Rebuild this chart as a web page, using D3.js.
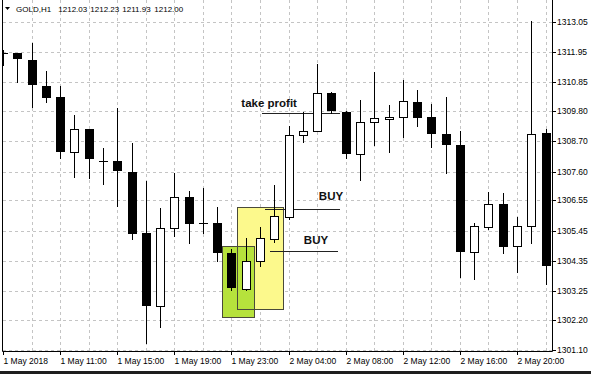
<!DOCTYPE html>
<html lang="en">
<head>
    <meta charset="UTF-8">
    <title>GOLD,H1</title>
    <script src="https://d3js.org/d3.v7.min.js"></script>
    <style>
        body {
            margin: 0;
            padding: 0;
            background-color: #ffffff;
        }
        svg {
            display: block;
            font-family: "Liberation Sans", Arial, sans-serif;
        }
        .axis text {
            font-size: 8.5px;
            fill: #000;
        }
        .axis line {
            stroke: #000;
        }
        .grid line {
            stroke: #c4c4c4;
            stroke-dasharray: 3,3;
        }
        .note {
            font-size: 11.5px;
            font-weight: bold;
            fill: #111;
        }
    </style>
</head>
<body>
    <svg width="591" height="374"></svg>

    <script>
        // hourly bars, 1 May 07:00 .. 2 May 21:00
        const open = [1311.91, 1311.91, 1311.67, 1310.73, 1310.31, 1308.32, 1309.14, 1308.00, 1307.99, 1307.60,
                      1305.37, 1302.70, 1305.53, 1306.69, 1305.74, 1305.74, 1304.64, 1303.31, 1304.35, 1305.13,
                      1305.96, 1308.93, 1309.08, 1310.47, 1309.78, 1308.24, 1309.40, 1309.53, 1309.58, 1310.15,
                      1309.60, 1308.97, 1308.57, 1304.66, 1305.57, 1306.41, 1304.90, 1305.62, 1309.02];
        const high = [1312.03, 1311.92, 1312.30, 1311.26, 1310.72, 1309.66, 1309.16, 1308.45, 1309.91, 1308.63,
                      1307.26, 1306.26, 1307.56, 1306.90, 1306.99, 1306.32, 1304.77, 1305.17, 1305.57, 1307.11,
                      1309.26, 1309.78, 1311.52, 1310.51, 1309.79, 1310.21, 1311.24, 1310.03, 1310.94, 1310.57,
                      1310.06, 1310.32, 1309.09, 1305.72, 1306.87, 1306.83, 1305.93, 1313.09, 1309.14];
        const low = [1311.48, 1310.87, 1309.96, 1310.15, 1308.08, 1307.41, 1307.36, 1307.15, 1306.35, 1305.14,
                     1301.34, 1301.95, 1305.25, 1304.99, 1305.37, 1304.35, 1303.30, 1303.29, 1304.16, 1305.05,
                     1305.86, 1308.69, 1309.07, 1309.75, 1308.08, 1307.29, 1308.57, 1308.32, 1308.87, 1309.26,
                     1308.49, 1307.56, 1303.75, 1303.68, 1305.50, 1304.62, 1303.95, 1304.99, 1303.50];
        const close = [1311.90, 1311.69, 1310.75, 1310.29, 1308.32, 1309.14, 1308.05, 1307.98, 1307.62, 1305.33,
                       1302.70, 1305.53, 1306.69, 1305.69, 1305.72, 1304.64, 1303.35, 1304.35, 1305.17, 1305.98,
                       1308.93, 1309.09, 1310.47, 1309.81, 1308.24, 1309.40, 1309.54, 1309.60, 1310.17, 1309.54,
                       1308.96, 1308.57, 1304.68, 1305.63, 1306.43, 1304.86, 1305.62, 1308.97, 1304.16];

        const priceTicks = [1301.10, 1302.20, 1303.25, 1304.35, 1305.45, 1306.55,
                            1307.60, 1308.70, 1309.80, 1310.85, 1311.95, 1313.05];
        const timeLabels = ["1 May 2018", "1 May 11:00", "1 May 15:00", "1 May 19:00", "1 May 23:00",
                            "2 May 04:00", "2 May 08:00", "2 May 12:00", "2 May 16:00", "2 May 20:00"];

        const symbol = "GOLD,H1";
        const headerValues = ["1212.03", "1212.23", "1211.93", "1212.00"];

        // chart objects, anchored in bar index / price
        const zoneFrom = [16.38, 15.36];
        const zoneTo = [19.60, 17.55];
        const zoneTop = [1306.32, 1304.89];
        const zoneBottom = [1302.58, 1302.29];

        const lineFrom = [18.11, 18.32, 18.67];
        const lineTo = [23.57, 23.57, 23.43];
        const linePrice = [1309.75, 1306.23, 1304.71];
        const noteText = ["take profit", "BUY", "BUY"];
        const noteBar = [16.69, 22.12, 21.07];
        const notePrice = [1310.11, 1306.72, 1305.11];

        const svg = d3.select("svg");
        const left = 3, right = 552, bottom = 351;

        const x = d3.scaleLinear().domain([0, open.length - 1]).range([3, 545.6]);
        const y = d3.scaleLinear().domain([1301.10, 1313.05]).range([350, 22]);
        const px = v => Math.round(x(v));
        const py = v => Math.round(y(v));

        // grid
        const grid = svg.append("g").attr("class", "grid");
        grid.selectAll(".h").data(priceTicks).join("line")
            .attr("x1", left).attr("x2", right)
            .attr("y1", d => py(d) + 0.5).attr("y2", d => py(d) + 0.5);
        grid.selectAll(".v").data(d3.range(2, open.length, 2)).join("line")
            .attr("x1", d => px(d) + 0.5).attr("x2", d => px(d) + 0.5)
            .attr("y1", 0).attr("y2", bottom);

        svg.append("clipPath").attr("id", "plot")
            .append("rect").attr("x", left).attr("y", 0)
            .attr("width", right - left).attr("height", bottom);

        const plot = svg.append("g").attr("clip-path", "url(#plot)");

        // rectangles behind the candles
        const zoneFill = ["#fcf98c", "#b6e23c"];
        zoneFrom.forEach((f, i) => {
            plot.append("rect")
                .attr("x", px(f) + 0.5)
                .attr("y", py(zoneTop[i]) + 0.5)
                .attr("width", px(zoneTo[i]) - px(f))
                .attr("height", py(zoneBottom[i]) - py(zoneTop[i]))
                .attr("fill", zoneFill[i]);
        });
        zoneFrom.forEach((f, i) => {
            plot.append("rect")
                .attr("x", px(f) + 0.5)
                .attr("y", py(zoneTop[i]) + 0.5)
                .attr("width", px(zoneTo[i]) - px(f))
                .attr("height", py(zoneBottom[i]) - py(zoneTop[i]))
                .attr("fill", "none")
                .attr("stroke", "#4a4a3a");
        });

        // level lines
        plot.selectAll(".level").data(linePrice).join("line")
            .attr("x1", (d, i) => px(lineFrom[i]))
            .attr("x2", (d, i) => px(lineTo[i]))
            .attr("y1", d => py(d) + 0.5).attr("y2", d => py(d) + 0.5)
            .attr("stroke", "#222");

        // candles
        const bars = open.map((o, i) => ({i, o, h: high[i], l: low[i], c: close[i]}));
        const candle = plot.selectAll(".candle").data(bars).join("g");

        candle.append("line")
            .attr("x1", d => px(d.i) + 0.5).attr("x2", d => px(d.i) + 0.5)
            .attr("y1", d => py(d.h)).attr("y2", d => py(d.l) + 1)
            .attr("stroke", "#000");

        candle.filter(d => d.c <= d.o).append("rect")
            .attr("x", d => px(d.i) - 4)
            .attr("y", d => py(d.o))
            .attr("width", 9)
            .attr("height", d => Math.max(1, py(d.c) - py(d.o)))
            .attr("fill", "#000");

        candle.filter(d => d.c > d.o).append("rect")
            .attr("x", d => px(d.i) - 3.5)
            .attr("y", d => py(d.c) + 0.5)
            .attr("width", 8)
            .attr("height", d => Math.max(1, py(d.o) - py(d.c)))
            .attr("fill", "#fff")
            .attr("stroke", "#000");

        // annotations
        svg.selectAll(".note").data(noteText).join("text")
            .attr("class", "note")
            .attr("x", (d, i) => x(noteBar[i]))
            .attr("y", (d, i) => y(notePrice[i]))
            .attr("dy", "0.36em")
            .text(d => d);

        // axes
        const yAxis = d3.axisRight(y)
            .tickValues(priceTicks)
            .tickFormat(d3.format(".2f"))
            .tickSize(4)
            .tickPadding(1);
        const gy = svg.append("g").attr("class", "axis")
            .attr("transform", `translate(${right},0)`)
            .call(yAxis);
        gy.select(".domain").remove();
        gy.selectAll(".tick").attr("transform", d => `translate(0,${py(d) + 0.5})`);

        const xAxis = d3.axisBottom(x)
            .tickValues(d3.range(0, open.length - 1, 4))
            .tickFormat((d, i) => timeLabels[i])
            .tickSize(4);
        const gx = svg.append("g").attr("class", "axis")
            .attr("transform", `translate(0,${bottom})`)
            .call(xAxis);
        gx.select(".domain").remove();
        gx.selectAll(".tick").attr("transform", d => `translate(${px(d) + 0.5},0)`);
        gx.selectAll(".tick text").attr("text-anchor", "start").attr("x", 0);

        // frame
        svg.append("path")
            .attr("d", `M${left - 0.5},0V${bottom + 0.5}H${right + 0.5}V0`)
            .attr("fill", "none")
            .attr("stroke", "#000");

        // header
        svg.append("path").attr("d", "M5,7H10L7.5,10Z").attr("fill", "#000");
        const header = svg.append("text")
            .attr("y", 12)
            .attr("font-size", "8px");
        header.append("tspan").attr("x", 16).text(symbol);
        header.selectAll(".val").data(headerValues).join("tspan")
            .attr("x", (d, i) => 58.3 + i * 32)
            .text(d => d);

        // window edge
        svg.append("rect").attr("x", 0).attr("y", 371).attr("width", 591).attr("height", 3).attr("fill", "#1e1e1e");
    </script>
</body>
</html>
